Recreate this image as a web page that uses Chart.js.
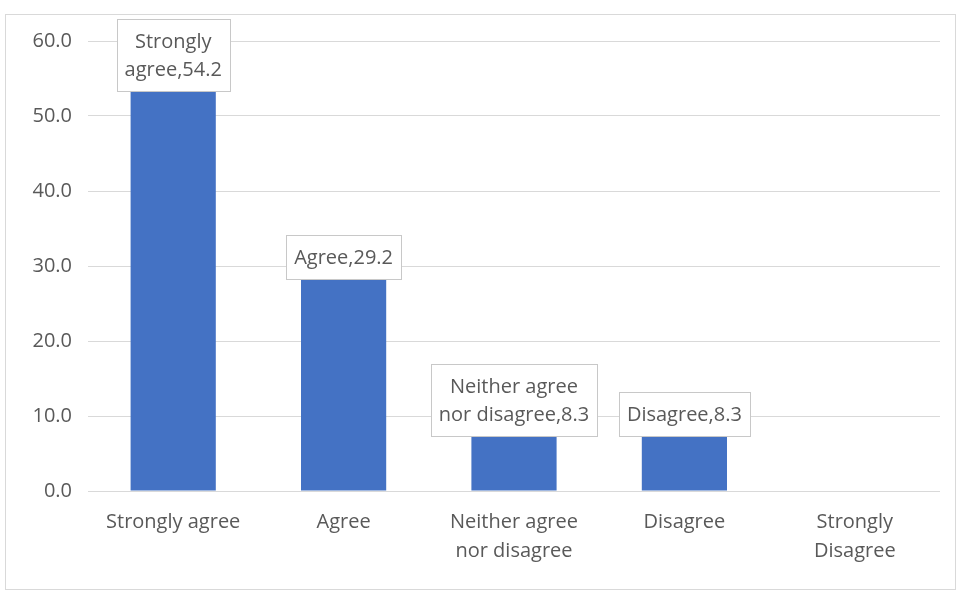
<!DOCTYPE html>
<html>
<head>
<meta charset="utf-8">
<script src="https://cdn.jsdelivr.net/npm/chart.js@4.4.1/dist/chart.umd.min.js"></script>
<style>
  html, body { margin: 0; padding: 0; background: #fff; }
  #wrap { width: 963px; height: 596px; }
</style>
</head>
<body>
<div id="wrap"><canvas id="chart" width="963" height="596"></canvas></div>
<script>
// chart data
const categories = [['Strongly agree'], ['Agree'], ['Neither agree', 'nor disagree'], ['Disagree'], ['Strongly', 'Disagree']];
const values = [54.2, 29.2, 8.3, 8.3, 0];
const yTicks = [0, 10, 20, 30, 40, 50, 60];

const FONT = '"Open Sans", "Noto Sans", sans-serif';
const FONT_SIZE = 20;
const TEXT = '#595959';

// greedy word wrap by character count, like the excel label boxes
function wrapLabel(text, maxChars) {
    const words = text.split(' ');
    const lines = [];
    let cur = '';
    for (const w of words) {
        const next = cur ? cur + ' ' + w : w;
        if (next.length > maxChars && cur) {
            lines.push(cur);
            cur = w;
        } else {
            cur = next;
        }
    }
    if (cur) lines.push(cur);
    return lines;
}

const boxLabels = {
    id: 'boxLabels',
    beforeDraw(chart) {
        const ctx = chart.ctx;
        ctx.save();
        ctx.fillStyle = '#fff';
        ctx.fillRect(0, 0, chart.width, chart.height);
        ctx.strokeStyle = '#d9d9d9';
        ctx.lineWidth = 1;
        ctx.strokeRect(5.5, 14.5, 950, 575);
        ctx.restore();
    },
    afterDatasetsDraw(chart) {
        const ctx = chart.ctx;
        const meta = chart.getDatasetMeta(0);
        const lineH = 28, padX = 8, padY = 8;
        ctx.save();
        ctx.font = FONT_SIZE + 'px ' + FONT;
        ctx.textAlign = 'center';
        ctx.textBaseline = 'middle';
        meta.data.forEach((bar, i) => {
            if (!values[i]) return;
            const lines = wrapLabel(categories[i].join(' ') + ',' + values[i].toFixed(1), 16);
            const w = Math.round(Math.max(...lines.map(l => ctx.measureText(l).width)) + padX * 2);
            const h = lines.length * lineH + padY * 2;
            const bottom = Math.round(bar.y + 7);
            const left = Math.round(bar.x - w / 2);
            ctx.fillStyle = '#fff';
            ctx.fillRect(left, bottom - h, w, h);
            ctx.strokeStyle = '#c8c8c8';
            ctx.lineWidth = 1;
            ctx.strokeRect(left + 0.5, bottom - h + 0.5, w, h);
            ctx.fillStyle = TEXT;
            lines.forEach((l, j) => {
                ctx.fillText(l, bar.x, bottom - h + padY + lineH * (j + 0.5) + 1);
            });
        });
        ctx.restore();
    }
};

new Chart(document.getElementById('chart'), {
    type: 'bar',
    data: {
        labels: categories,
        datasets: [{
            data: values,
            backgroundColor: '#4472C4',
            categoryPercentage: 1,
            barPercentage: 0.5
        }]
    },
    options: {
        responsive: false,
        animation: false,
        devicePixelRatio: 1,
        layout: { padding: { top: 41, right: 23, bottom: 0, left: 0 } },
        plugins: {
            legend: { display: false },
            tooltip: { enabled: false }
        },
        scales: {
            x: {
                grid: { display: false, drawTicks: false },
                border: { display: false },
                ticks: {
                    color: TEXT,
                    font: { family: FONT, size: FONT_SIZE, lineHeight: 1.45 },
                    padding: 17,
                    maxRotation: 0,
                    autoSkip: false
                },
                afterFit(scale) { scale.height = 105; }
            },
            y: {
                min: yTicks[0],
                max: yTicks[yTicks.length - 1],
                afterBuildTicks(scale) { scale.ticks = yTicks.map(v => ({ value: v })); },
                grid: { color: '#d9d9d9', drawTicks: false },
                border: { display: false },
                ticks: {
                    color: TEXT,
                    font: { family: FONT, size: FONT_SIZE },
                    padding: 16,
                    callback: v => v.toFixed(1)
                },
                afterFit(scale) { scale.width = 88; }
            }
        }
    },
    plugins: [boxLabels]
});
</script>
</body>
</html>
